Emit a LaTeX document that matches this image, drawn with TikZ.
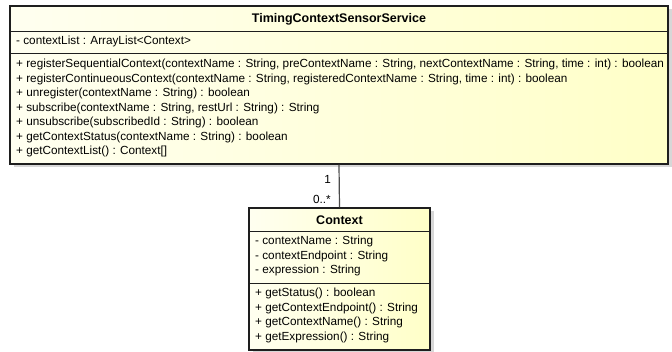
\documentclass[tikz,border=0pt]{standalone}
\usepackage{fontspec}
\setmainfont{Liberation Sans}
\usetikzlibrary{shadows}

\definecolor{umlleft}{RGB}{255,255,240}
\definecolor{umlright}{RGB}{255,255,200}
\definecolor{umlline}{RGB}{30,30,30}
\definecolor{umlshadow}{RGB}{215,215,215}

\begin{document}
\begin{tikzpicture}[x=1pt,y=-1pt,
    classbox/.style={draw=umlline,line width=1.5pt,inner sep=0pt,
        left color=umlleft,right color=umlright,
        drop shadow={shadow xshift=3.5pt,shadow yshift=-3.5pt,fill=umlshadow,opacity=1}},
    classname/.style={font=\bfseries\fontsize{12.5}{14}\selectfont,inner sep=0pt},
    member/.style={anchor=west,font=\fontsize{11.75}{14}\selectfont,inner sep=0pt,
        text height=8.5pt,text depth=2.5pt},
    mult/.style={anchor=east,font=\fontsize{11.75}{14}\selectfont,inner sep=0pt},
    sep/.style={draw=umlline,line width=0.8pt}]
    \useasboundingbox (0,0) rectangle (672,352);

    % TimingContextSensorService
    \node[classbox,minimum width=658pt,minimum height=158pt] (service) at (339,85) {};
    \node[classname] (servicename) at (339,19) {TimingContextSensorService};
    \draw[sep] (service.west |- 0,31) -- (service.east |- 0,31);
    \node[member] (svcattr) at (16,42) {- contextList : ArrayList<Context>};
    \draw[sep] (service.west |- 0,53) -- (service.east |- 0,53);
    \node[member] (svcop1) at (16,65) {+ registerSequentialContext(contextName : String, preContextName : String, nextContextName : String, time : int) : boolean};
    \node[member] (svcop2) at (16,79.5) {+ registerContinueousContext(contextName : String, registeredContextName : String, time : int) : boolean};
    \node[member] (svcop3) at (16,94) {+ unregister(contextName : String) : boolean};
    \node[member] (svcop4) at (16,108.5) {+ subscribe(contextName : String, restUrl : String) : String};
    \node[member] (svcop5) at (16,123) {+ unsubscribe(subscribedId : String) : boolean};
    \node[member] (svcop6) at (16,137.5) {+ getContextStatus(contextName : String) : boolean};
    \node[member] (svcop7) at (16,152) {+ getContextList() : Context[]};

    % Context
    \node[classbox,minimum width=181pt,minimum height=142pt] (context) at (339.5,279) {};
    \node[classname] (contextname) at (339.5,220) {Context};
    \draw[sep] (context.west |- 0,231) -- (context.east |- 0,231);
    \node[member] (ctxattr1) at (255,242) {- contextName : String};
    \node[member] (ctxattr2) at (255,256.5) {- contextEndpoint : String};
    \node[member] (ctxattr3) at (255,271) {- expression : String};
    \draw[sep] (context.west |- 0,283) -- (context.east |- 0,283);
    \node[member] (ctxop1) at (255,294) {+ getStatus() : boolean};
    \node[member] (ctxop2) at (255,308.5) {+ getContextEndpoint() : String};
    \node[member] (ctxop3) at (255,323) {+ getContextName() : String};
    \node[member] (ctxop4) at (255,337.5) {+ getExpression() : String};

    % association
    \draw[umlline!80,line width=1.2pt] (service.south) -- (context.north);
    \node[mult] (multone) at (331,179) {1};
    \node[mult] (multmany) at (331,199) {0..*};
\end{tikzpicture}
\end{document}
